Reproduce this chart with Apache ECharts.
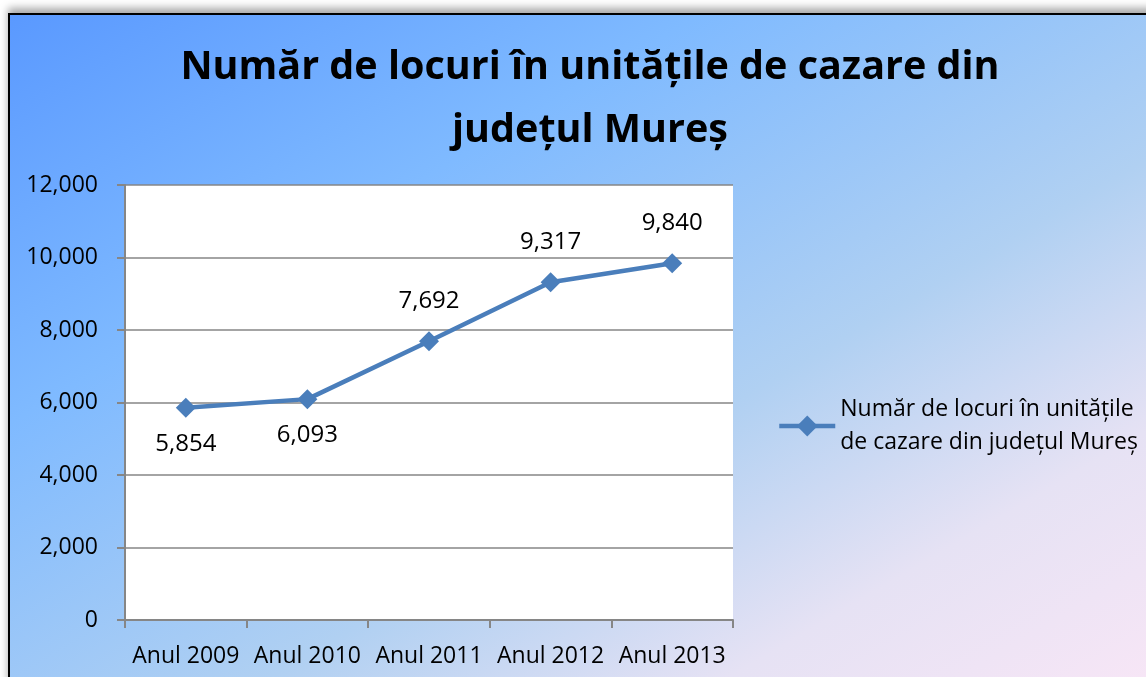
<!DOCTYPE html>
<html>
<head>
<meta charset="utf-8">
<script src="https://cdn.jsdelivr.net/npm/echarts@6/dist/echarts.min.js"></script>
<style>
  html, body { margin: 0; padding: 0; background: #fff; overflow: hidden; }
  #frame {
    position: absolute; left: 8px; top: 13px; width: 1150px; height: 680px;
    border: 2px solid #000;
    background: linear-gradient(to bottom right, #5a99ff 0%, #7fbaff 30%, #b0d0f2 60%, #e6e2f4 80%, #f8e6f6 100%);
    box-shadow: 0 -5px 8px rgba(0,0,0,0.35);
  }
  #report { position: absolute; left: 0; top: 0; width: 1146px; height: 677px; }
</style>
</head>
<body>
<div id="frame"></div>
<div id="report"></div>
<script>
var categories = ['Anul 2009', 'Anul 2010', 'Anul 2011', 'Anul 2012', 'Anul 2013'];
var locuri = [5854, 6093, 7692, 9317, 9840];
var labelPos = ['bottom', 'bottom', 'top', 'top', 'top'];
var yTicks = { min: 0, max: 12000, interval: 2000 };
var seriesName = 'Număr de locuri în unitățile\nde cazare din județul Mureș';

var myChart = echarts.init(document.getElementById('report'));
var font = '"Open Sans", "Noto Sans", sans-serif';

var option = {
    backgroundColor: 'transparent',
    title: {
        text: 'Număr de locuri în unitățile de cazare din\njudețul Mureș',
        left: 585,
        top: 31,
        textAlign: 'center',
        textStyle: {
            fontFamily: font,
            fontSize: 39.5,
            fontWeight: 'bold',
            lineHeight: 63,
            color: '#000'
        }
    },
    legend: {
        left: 772,
        top: 388,
        itemWidth: 56,
        itemHeight: 26,
        itemGap: 6,
        lineStyle: { width: 4.5 },
        textStyle: { fontFamily: font, fontSize: 23, lineHeight: 33, color: '#000' },
        data: [seriesName]
    },
    grid: {
        left: 125, top: 185, width: 608, height: 435,
        show: true, backgroundColor: '#fff', borderWidth: 0
    },
    xAxis: {
        type: 'category',
        data: categories,
        boundaryGap: true,
        axisLine: { lineStyle: { color: '#868686', width: 2 } },
        axisTick: { show: true, interval: 0, length: 8, alignWithLabel: false, lineStyle: { color: '#868686', width: 2 } },
        axisLabel: { interval: 0, hideOverlap: false, fontFamily: font, fontSize: 23, color: '#000', margin: 25 }
    },
    yAxis: {
        type: 'value',
        min: yTicks.min,
        max: yTicks.max,
        interval: yTicks.interval,
        axisLine: { show: true, lineStyle: { color: '#868686', width: 2 } },
        axisTick: { show: true, length: 8, lineStyle: { color: '#868686', width: 2 } },
        axisLabel: {
            fontFamily: font, fontSize: 23, color: '#000', margin: 27,
            formatter: function (v) { return v.toLocaleString('en-US'); }
        },
        splitLine: { show: true, lineStyle: { color: '#868686', width: 1.5 } }
    },
    series: [{
        name: seriesName,
        type: 'line',
        data: locuri.map(function (v, i) {
            return { value: v, label: { position: labelPos[i], distance: labelPos[i] === 'top' ? 18 : 14 } };
        }),
        symbol: 'diamond',
        symbolSize: 20,
        lineStyle: { color: '#4a7ebb', width: 4.5 },
        itemStyle: { color: '#4a7ebb' },
        label: {
            show: true,
            fontFamily: font,
            fontSize: 24,
            color: '#000',
            formatter: function (p) { return p.value.toLocaleString('en-US'); }
        }
    }]
};
myChart.setOption(option);
</script>
</body>
</html>
